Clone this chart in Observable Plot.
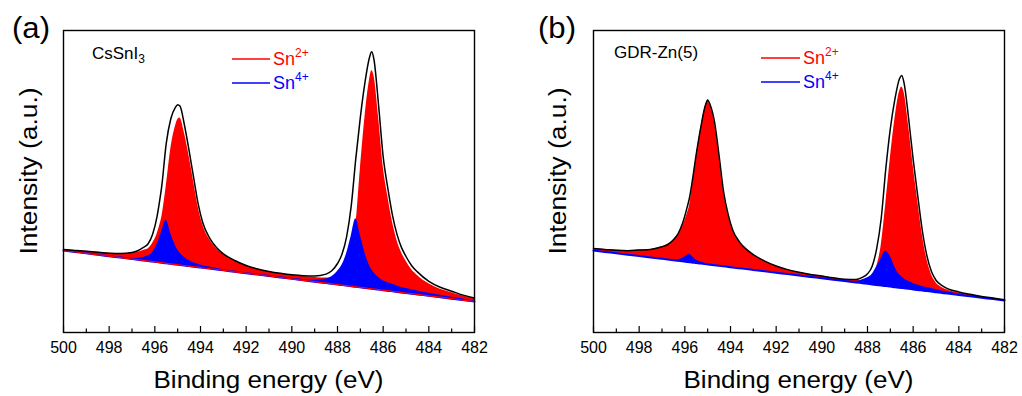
<!DOCTYPE html>
<html><head><meta charset="utf-8">
<script src="https://cdn.jsdelivr.net/npm/d3@7"></script>
<script src="https://cdn.jsdelivr.net/npm/@observablehq/plot@0.6"></script>
<style>
html,body{margin:0;padding:0;background:#fff;}
#wrap{position:relative;width:1022px;height:396px;overflow:hidden;background:#fff;}
.panel{position:absolute;top:0;}
svg text{font-family:"Liberation Sans",Arial,sans-serif;}
</style></head><body><div id="wrap"></div>
<script>
// Binding energy grid (eV)
const energy = [500,499.5,499,498.5,498,497.5,497,496.75,496.5,496.3,496.1,495.9,495.8,495.7,495.5,495.3,495.1,495.0,494.9,494.7,494.5,494.3,494.1,493.9,493.6,493.3,493,492.5,492,491.5,491,490.5,490,489.5,489,488.5,488.25,488,487.8,487.6,487.4,487.2,487.0,486.8,486.6,486.5,486.4,486.2,486.0,485.8,485.6,485.4,485.2,485.0,484.75,484.5,484,483.5,483,482.5,482];

// (a) CsSnI3 — background and components (a.u., components above background)
const bgA  = [82.0,80.6,79.2,77.7,76.3,74.9,73.5,72.8,72.1,71.5,70.9,70.4,70.1,69.8,69.2,68.7,68.1,67.8,67.5,67.0,66.4,65.8,65.3,64.7,63.9,63.0,62.2,60.7,59.3,57.9,56.5,55.1,53.7,52.2,50.8,49.4,48.7,48.0,47.4,46.9,46.3,45.7,45.2,44.6,44.0,43.7,43.5,42.9,42.3,41.8,41.2,40.6,40.1,39.5,38.8,38.1,36.7,35.3,33.8,32.4,31.0];
const sn2A = [1,1.5,2,2.5,3,4,6,7.5,10,12,18,28,36,45,77,115,138,145,147,132,110,85,60,43,29,21,16,11,7.5,5.5,4.3,3.7,3.5,3.8,4.3,5,6,8,11,17,30,60,118,170,208,218,213,172,124,95,70,52,40,32,24,19,12,8,6,4,3];
const sn4A = [0,0,0,0,0,0,0.5,1.5,3,5,9,18,24,31,43,30,19,15,12,8,5.5,4,3,2,1.5,1,0.5,0.3,0.2,0.2,0.3,0.4,0.5,0.8,1.5,4,7,13,20,32,50,68,52,35,23,19,16,12,9.5,8,7,6,5,4.5,4,3.5,2.5,2,1.5,1,0.5];

// (b) GDR-Zn(5)
const bgB  = [82.0,80.6,79.2,77.8,76.4,75.1,73.7,73.0,72.3,71.7,71.2,70.6,70.3,70.1,69.5,68.9,68.4,68.1,67.8,67.3,66.7,66.2,65.6,65.1,64.2,63.4,62.6,61.2,59.8,58.4,57.0,55.6,54.2,52.8,51.4,50.1,49.4,48.7,48.1,47.6,47.0,46.4,45.9,45.3,44.8,44.5,44.2,43.7,43.1,42.6,42.0,41.4,40.9,40.3,39.6,38.9,37.6,36.2,34.8,33.4,32.0];
const sn2B = [2,2.5,3,4,6,8,12,15,20,26,35,48,56,71,106,135,158,164,160,143,110,74,52,37,26,19.5,15,10,6.5,4.3,3,2.3,2,1.7,1.6,2,2.5,4,8,18,40,82,128,168,196,201,196,163,124,89,56,32,17,9.5,5.5,3.5,2,1.5,1,0.8,0.5];
const sn4B = [0,0,0,0,0,0,0,0,0.5,1,3,6.5,8,6.5,3,1.5,0.8,0.5,0.4,0.3,0.2,0.2,0.2,0.2,0.2,0.2,0.2,0.2,0.2,0.2,0.2,0.2,0.2,0.2,0.3,1,3,6,10,18,27,35,30,20,13,11.5,9.5,7.5,6,5,4,3.5,3,2.5,2,1.5,1,0.5,0.3,0.2,0.2];

const majorTicks = [500,498,496,494,492,490,488,486,484,482];
const minorTicks = [499,497,495,493,491,489,487,485,483];
const panelTags = ["(a)", "(b)"];
const sampleNames = ["CsSnI", "GDR-Zn(5)"];
const sampleSubs = ["3", ""];
const legendLabels = ["Sn", "Sn"];
const legendSups = ["2+", "4+"];
const xTitle = "Binding energy (eV)";
const yTitle = "Intensity (a.u.)";

function rowsFor(bg, sn2, sn4) {
  return energy.map((E, i) => ({E, bg: bg[i], red: bg[i] + sn2[i], blue: bg[i] + sn4[i], env: bg[i] + sn2[i] + sn4[i]}))
    .sort((a, b) => a.E - b.E);
}

const layouts = [
  {left: 0, ml: 63, mr: 37, tagX: 12, yT: 37, sampleX: 92, sampleY: 59, legX1: 232, legX2: 270, legY: [59, 83], legTextX: 273, legTextY: [65, 89], rows: rowsFor(bgA, sn2A, sn4A)},
  {left: 511, ml: 82, mr: 18, tagX: 27, yT: 55, sampleX: 103, sampleY: 58, legX1: 250, legX2: 289, legY: [58, 82], legTextX: 292, legTextY: [64, 88], rows: rowsFor(bgB, sn2B, sn4B)}
];

const wrap = document.getElementById("wrap");
layouts.forEach((L, p) => {
  const marks = [
    Plot.areaY(L.rows, {x: "E", y1: "bg", y2: "red", fill: "#ff0000", curve: "monotone-x"}),
    Plot.areaY(L.rows, {x: "E", y1: "bg", y2: "blue", fill: "#0000ff", curve: "monotone-x"}),
    Plot.lineY(L.rows, {x: "E", y: "bg", stroke: "#0000ff", strokeWidth: 2, curve: "monotone-x"})
  ];
  if (p === 0) marks.push(Plot.lineY(L.rows, {x: "E", y: "bg", stroke: "#ff0000", strokeWidth: 1.2, curve: "monotone-x"}));
  marks.push(
    Plot.lineY(L.rows, {x: "E", y: "env", stroke: "#000", strokeWidth: 1.5, curve: "monotone-x"}),
    Plot.ruleX(majorTicks, {x: d => d, y1: 0, y2: 6, stroke: "#000", strokeWidth: 1.2}),
    Plot.ruleX(minorTicks, {x: d => d, y1: 0, y2: 3.5, stroke: "#000", strokeWidth: 1.2}),
    Plot.text(majorTicks, {x: d => d, text: d => String(d), frameAnchor: "bottom", lineAnchor: "top", dy: 9, fontSize: 16, fill: "#000"}),
    Plot.frame({stroke: "#000", strokeWidth: 1.4})
  );
  const chart = Plot.plot({
    width: 511, height: 396,
    marginLeft: L.ml, marginRight: L.mr, marginTop: 30, marginBottom: 64,
    x: {domain: [500, 482], axis: null},
    y: {domain: [0, 302], axis: null},
    style: {fontFamily: "Liberation Sans, Arial, sans-serif", fontSize: "16px", color: "#000", background: "white", overflow: "visible"},
    marks
  });
  const div = document.createElement("div");
  div.className = "panel";
  div.style.left = L.left + "px";
  div.appendChild(chart);
  wrap.appendChild(div);

  const svg = d3.select(chart);
  const plotCx = L.ml + (511 - L.ml - L.mr) / 2;
  svg.append("text").attr("x", L.tagX).attr("y", 38).attr("text-anchor", "start").attr("font-size", 29).attr("fill", "#000")
    .attr("textLength", 38).attr("lengthAdjust", "spacingAndGlyphs").text(panelTags[p]);
  svg.append("text").attr("transform", `translate(${L.yT},171) rotate(-90)`).attr("text-anchor", "middle")
    .attr("font-size", 23).attr("fill", "#000").attr("textLength", 167).attr("lengthAdjust", "spacingAndGlyphs").text(yTitle);
  svg.append("text").attr("x", plotCx).attr("y", 388).attr("text-anchor", "middle").attr("font-size", 23).attr("fill", "#000")
    .attr("textLength", 230).attr("lengthAdjust", "spacingAndGlyphs").text(xTitle);
  const st = svg.append("text").attr("x", L.sampleX).attr("y", L.sampleY).attr("text-anchor", "start").attr("font-size", 17).attr("fill", "#000");
  st.append("tspan").text(sampleNames[p]);
  if (sampleSubs[p]) st.append("tspan").attr("font-size", 12).attr("dy", 4).text(sampleSubs[p]);
  const legColors = ["#ff0000", "#0000ff"];
  for (let k = 0; k < 2; k++) {
    svg.append("line").attr("x1", L.legX1).attr("x2", L.legX2).attr("y1", L.legY[k]).attr("y2", L.legY[k])
      .attr("stroke", legColors[k]).attr("stroke-width", 1.6);
    const t = svg.append("text").attr("x", L.legTextX).attr("y", L.legTextY[k]).attr("text-anchor", "start").attr("font-size", 18).attr("fill", legColors[k]);
    t.append("tspan").text(legendLabels[k]);
    t.append("tspan").attr("font-size", 12).attr("dy", -8).text(legendSups[k]);
  }
});
</script></body></html>
